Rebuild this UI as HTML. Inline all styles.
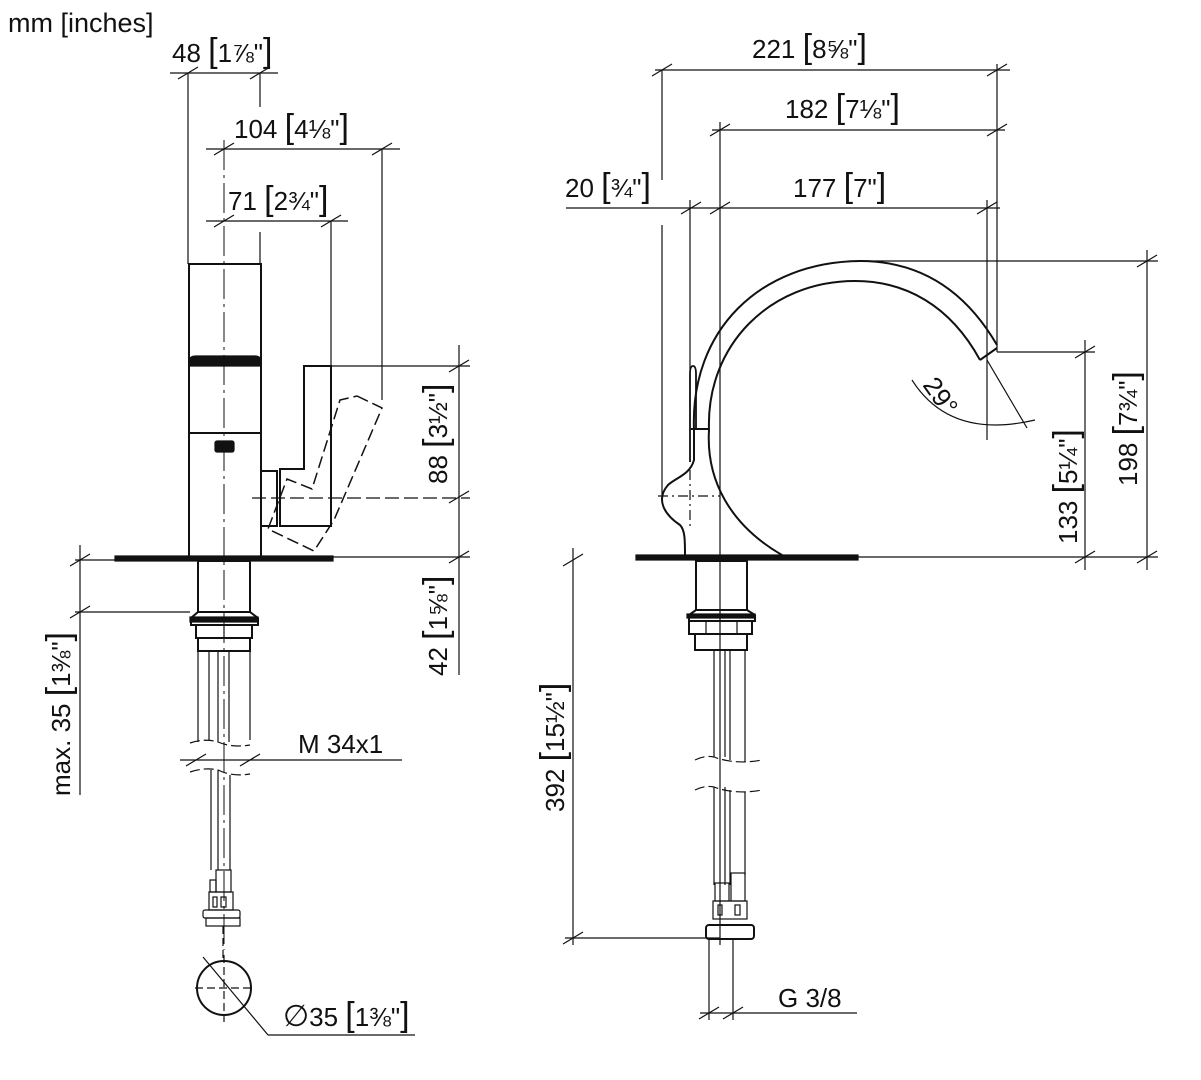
<!DOCTYPE html>
<html><head><meta charset="utf-8"><style>
html,body{margin:0;padding:0;background:#fff;}
svg{display:block;}
text{font-family:"Liberation Sans",sans-serif;fill:#111;}
</style></head><body>
<svg width="1201" height="1080" viewBox="0 0 1201 1080" xmlns="http://www.w3.org/2000/svg">
<g fill="none" stroke="#111" stroke-width="1.2">
<line x1="170" y1="73" x2="278" y2="73"/>
<line x1="178" y1="79" x2="198" y2="67"/><line x1="250" y1="79" x2="270" y2="67"/>
<line x1="188" y1="73" x2="188" y2="264"/>
<line x1="260" y1="73" x2="260" y2="107"/><line x1="260" y1="232" x2="260" y2="264"/>
<line x1="206" y1="149" x2="400" y2="149"/>
<line x1="214" y1="155" x2="234" y2="143"/><line x1="372" y1="155" x2="392" y2="143"/>
<line x1="382" y1="149" x2="382" y2="400"/>
<line x1="206" y1="221" x2="348" y2="221"/>
<line x1="214" y1="227" x2="234" y2="215"/><line x1="321" y1="227" x2="341" y2="215"/>
<line x1="331" y1="221" x2="331" y2="366"/>
<line x1="224" y1="140" x2="224" y2="950" stroke-dasharray="30,5,3,5" stroke-width="1"/>
<rect x="189" y="264" width="72" height="293" stroke-width="2"/>
<line x1="189" y1="433" x2="261" y2="433" stroke-width="2"/>
<path d="M189,366 L189,360 Q190,356 196,356 L255,356 Q260,356 261,360 L261,366 Z" fill="#111"/>
<rect x="215" y="441" width="19" height="11" rx="2" fill="#111"/>
<rect x="261" y="471" width="16" height="55" stroke-width="2"/>
<path d="M280,526 L280,469 L304,469 L304,366 L331,366 L331,526 Z" stroke-width="2"/>
<path d="M357,396 L382,408 L334,520 L314,551 L268,529 L287,479 L312,489 L340,400 Z" stroke-dasharray="12,5" stroke-width="1.5"/>
<rect x="115" y="556" width="218" height="5" fill="#111"/>
<line x1="75" y1="560" x2="115" y2="560"/><line x1="333" y1="557" x2="470" y2="557"/>
<line x1="331" y1="366" x2="470" y2="366"/>
<line x1="252" y1="498" x2="470" y2="498" stroke-dasharray="14,5"/>
<line x1="459" y1="345" x2="459" y2="675"/>
<line x1="449" y1="372" x2="469" y2="360"/><line x1="449" y1="503" x2="469" y2="491"/><line x1="449" y1="563" x2="469" y2="551"/>
<rect x="198" y="561" width="52" height="51" stroke-width="2"/>
<path d="M198,612 L191,618 L191,625 L258,625 L258,618 L250,612" stroke-width="2"/>
<rect x="190" y="617" width="68" height="5" fill="#111"/>
<rect x="196" y="625" width="56" height="13" stroke-width="2"/>
<line x1="224" y1="625" x2="224" y2="638"/>
<rect x="198" y="638" width="52" height="13" stroke-width="2"/>
<line x1="198" y1="651" x2="198" y2="742"/><line x1="250" y1="651" x2="250" y2="740"/>
<line x1="209" y1="651" x2="209" y2="740"/><line x1="218" y1="651" x2="218" y2="742"/><line x1="229" y1="651" x2="229" y2="742"/>
<line x1="211" y1="770" x2="211" y2="870"/><line x1="230" y1="775" x2="230" y2="870"/><line x1="218" y1="770" x2="218" y2="870"/>
<path d="M190,743 Q205,738 218,742 Q232,748 250,745" stroke-dasharray="10,4"/>
<path d="M190,772 Q205,767 218,770 Q232,777 250,774" stroke-dasharray="10,4"/>
<line x1="180" y1="760" x2="402" y2="760"/>
<line x1="186" y1="766" x2="206" y2="754"/><line x1="240" y1="766" x2="260" y2="754"/>
<rect x="216" y="870" width="15" height="22"/><rect x="210" y="880" width="6" height="12"/>
<rect x="209" y="892" width="24" height="18"/>
<rect x="213" y="897" width="4" height="10"/><rect x="221" y="897" width="5" height="10"/>
<rect x="203" y="910" width="37" height="8" rx="2"/><rect x="206" y="918" width="34" height="8"/>
<line x1="223" y1="926" x2="223" y2="960" stroke-dasharray="8,4"/>
<circle cx="224" cy="988" r="27" stroke-width="2"/>
<line x1="195" y1="988" x2="255" y2="988" stroke-dasharray="8,4"/>
<line x1="224" y1="955" x2="224" y2="1022" stroke-dasharray="8,4"/>
<line x1="203" y1="957" x2="268" y2="1035"/><line x1="268" y1="1035" x2="415" y2="1035"/>
<line x1="80" y1="545" x2="80" y2="795"/>
<line x1="75" y1="612" x2="190" y2="612"/>
<line x1="70" y1="566" x2="90" y2="554"/><line x1="70" y1="618" x2="90" y2="606"/>

<line x1="655" y1="70" x2="1010" y2="70"/>
<line x1="652" y1="76" x2="672" y2="64"/><line x1="987" y1="76" x2="1007" y2="64"/>
<line x1="662" y1="70" x2="662" y2="180"/><line x1="662" y1="225" x2="662" y2="495"/>
<line x1="997" y1="64" x2="997" y2="352"/>
<line x1="712" y1="130" x2="1005" y2="130"/>
<line x1="710" y1="136" x2="730" y2="124"/><line x1="987" y1="136" x2="1007" y2="124"/>
<line x1="720" y1="122" x2="720" y2="945"/>
<line x1="566" y1="208" x2="1000" y2="208"/>
<line x1="681" y1="214" x2="701" y2="202"/><line x1="710" y1="214" x2="730" y2="202"/><line x1="977" y1="214" x2="997" y2="202"/>
<line x1="690" y1="200" x2="690" y2="370"/>
<line x1="987" y1="200" x2="987" y2="440"/>
<line x1="860" y1="261" x2="1158" y2="261"/>
<line x1="997" y1="352" x2="1095" y2="352"/>
<line x1="858" y1="557" x2="1158" y2="557"/>
<line x1="1147" y1="250" x2="1147" y2="570"/>
<line x1="1137" y1="267" x2="1157" y2="255"/><line x1="1137" y1="563" x2="1157" y2="551"/>
<line x1="1085" y1="340" x2="1085" y2="570"/>
<line x1="1075" y1="358" x2="1095" y2="346"/><line x1="1075" y1="563" x2="1095" y2="551"/>
<path d="M694,430 C690,330 760,262 860,261 C920,261 965,290 997,345" stroke-width="2"/>
<path d="M709,430 C706,345 770,281 855,281 C905,281 950,305 980,360" stroke-width="2"/>
<line x1="980" y1="360" x2="997" y2="348" stroke-width="2"/>
<line x1="691" y1="429" x2="709" y2="429" stroke-width="2"/>
<path d="M709,430 C706,480 730,525 782,555" stroke-width="2"/>
<path d="M694,430 L694,460 C690,475 675,478 668,485 C655,500 665,515 680,525 C685,530 685,540 685,556" stroke-width="2"/>
<path d="M690,462 L690,374 Q690,366 693,366 Q696,366 696,374 L696,430" stroke-width="1.8"/>
<line x1="658" y1="496" x2="720" y2="496" stroke-dasharray="10,4,2,4"/>
<line x1="690" y1="470" x2="690" y2="530" stroke-dasharray="10,4,2,4"/>
<line x1="987" y1="360" x2="1027" y2="428"/>
<path d="M912,380 Q950,440 1035,420"/>
<rect x="636" y="555" width="222" height="5" fill="#111"/>
<rect x="696" y="561" width="51" height="49" stroke-width="2"/>
<path d="M696,610 L689,615 L689,621 L755,621 L755,615 L747,610" stroke-width="2"/>
<rect x="687" y="614" width="68" height="4" fill="#111"/>
<rect x="689" y="621" width="63" height="13" stroke-width="2"/>
<line x1="706" y1="621" x2="706" y2="634"/><line x1="737" y1="621" x2="737" y2="634"/>
<rect x="695" y="634" width="52" height="16" stroke-width="2"/>
<line x1="714" y1="650" x2="714" y2="757"/><line x1="725" y1="650" x2="725" y2="757"/><line x1="730" y1="650" x2="730" y2="760"/><line x1="745" y1="650" x2="745" y2="762"/>
<path d="M695,760 Q705,755 714,757 Q735,765 762,760" stroke-dasharray="10,4"/>
<path d="M695,790 Q705,785 714,787 Q735,795 762,790" stroke-dasharray="10,4"/>
<line x1="714" y1="787" x2="714" y2="885"/><line x1="725" y1="787" x2="725" y2="885"/><line x1="730" y1="790" x2="730" y2="885"/><line x1="745" y1="792" x2="745" y2="875"/>
<rect x="715" y="883" width="14" height="18"/><rect x="731" y="873" width="14" height="28"/>
<rect x="713" y="901" width="34" height="18"/>
<rect x="718" y="905" width="4" height="10"/><rect x="735" y="905" width="5" height="10"/>
<rect x="706" y="925" width="48" height="14" rx="3" stroke-width="2"/>
<line x1="565" y1="938" x2="720" y2="938"/>
<line x1="573" y1="548" x2="573" y2="945"/>
<line x1="563" y1="566" x2="583" y2="554"/><line x1="563" y1="944" x2="583" y2="932"/>
<line x1="709" y1="940" x2="709" y2="1020"/><line x1="733" y1="940" x2="733" y2="1020"/>
<line x1="700" y1="1013" x2="857" y2="1013"/>
<line x1="699" y1="1019" x2="719" y2="1007"/><line x1="723" y1="1019" x2="743" y2="1007"/>
</g>
<g font-size="26">
<text x="8" y="32" font-size="27">mm [inches]</text>
<text x="172" y="62">48 <tspan font-size="34">[</tspan>1⅞"<tspan font-size="34">]</tspan></text>
<text x="234" y="138">104 <tspan font-size="34">[</tspan>4⅛"<tspan font-size="34">]</tspan></text>
<text x="228" y="210">71 <tspan font-size="34">[</tspan>2¾"<tspan font-size="34">]</tspan></text>
<text transform="translate(447,484) rotate(-90)">88 <tspan font-size="34">[</tspan>3½"<tspan font-size="34">]</tspan></text>
<text transform="translate(447,676) rotate(-90)">42 <tspan font-size="34">[</tspan>1⅝"<tspan font-size="34">]</tspan></text>
<text transform="translate(70,796) rotate(-90)">max. 35 <tspan font-size="34">[</tspan>1⅜"<tspan font-size="34">]</tspan></text>
<text x="298" y="753">M 34x1</text>
<text x="283" y="1026"><tspan font-size="30">∅</tspan>35 <tspan font-size="34">[</tspan>1⅜"<tspan font-size="34">]</tspan></text>
<text x="752" y="58">221 <tspan font-size="34">[</tspan>8⅝"<tspan font-size="34">]</tspan></text>
<text x="785" y="118">182 <tspan font-size="34">[</tspan>7⅛"<tspan font-size="34">]</tspan></text>
<text x="565" y="197">20 <tspan font-size="34">[</tspan>¾"<tspan font-size="34">]</tspan></text>
<text x="793" y="197">177 <tspan font-size="34">[</tspan>7"<tspan font-size="34">]</tspan></text>
<text transform="translate(1137,486) rotate(-90)">198 <tspan font-size="34">[</tspan>7¾"<tspan font-size="34">]</tspan></text>
<text transform="translate(1077,544) rotate(-90)">133 <tspan font-size="34">[</tspan>5¼"<tspan font-size="34">]</tspan></text>
<text transform="translate(564,812) rotate(-90)">392 <tspan font-size="34">[</tspan>15½"<tspan font-size="34">]</tspan></text>
<text transform="translate(922,385) rotate(55)">29°</text>
<text x="778" y="1007">G 3/8</text>
</g>
</svg>
</body></html>
